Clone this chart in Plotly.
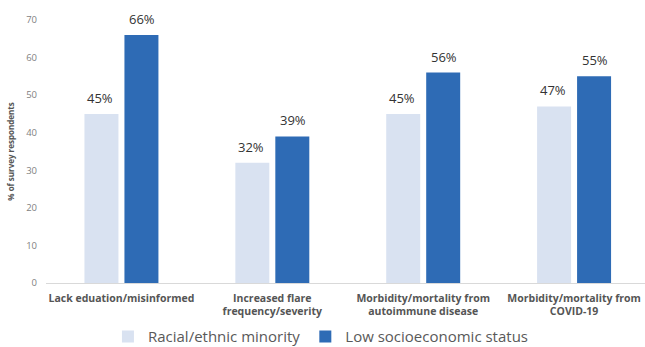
import plotly.graph_objects as go

categories = ["Lack eduation/misinformed", "Increased flare<br>frequency/severity",
              "Morbidity/mortality from<br>autoimmune disease", "Morbidity/mortality from<br>COVID-19"]
racial = [45, 32, 45, 47]
low_ses = [66, 39, 56, 55]
series_names = ["Racial/ethnic minority", "Low socioeconomic status"]
colors = ["#D9E2F1", "#2E6BB5"]

fig = go.Figure()
for name, vals, col in zip(series_names, [racial, low_ses], colors):
    fig.add_trace(go.Bar(x=categories, y=vals, name=name, marker_color=col,
                         marker_line_width=0))

for vals, xs in [(racial, -21), (low_ses, 21)]:
    for c, v in zip(categories, vals):
        fig.add_annotation(x=c, y=v, text=f"{v}%", showarrow=False, xshift=xs,
                           yanchor="bottom", yshift=5,
                           font=dict(family="Open Sans", size=13, color="#333333"))

fig.update_layout(
    width=645, height=347,
    margin=dict(l=46, r=0, t=20, b=64, autoexpand=False),
    paper_bgcolor="white", plot_bgcolor="white",
    barmode="group", bargap=0.47, bargroupgap=0.15,
    showlegend=True,
    legend=dict(orientation="h", x=0.459, xanchor="center", y=-0.267, yanchor="bottom",
                bgcolor="rgba(0,0,0,0)",
                font=dict(family="Open Sans", size=15, color="#595959"),
                itemwidth=30, tracegroupgap=0),
    font=dict(family="Open Sans"),
)
fig.update_xaxes(range=[-0.5, 3.47], showline=True, linecolor="#d9d9d9", linewidth=1,
                 automargin=False, ticklabelstandoff=5,
                 tickfont=dict(family="Open Sans", size=10.5, color="#555555", weight="bold"),
                 ticks="", showgrid=False)
fig.update_yaxes(range=[0, 70], dtick=10, showgrid=False, zeroline=False, showline=False,
                 automargin=False, ticklabelstandoff=8,
                 tickfont=dict(family="Open Sans", size=9.5, color="#7f7f7f"),
                 title=dict(text="% of survey respondents", standoff=10,
                            font=dict(family="Open Sans", size=8, color="#555555", weight="bold")))

fig.write_html("out.html")
